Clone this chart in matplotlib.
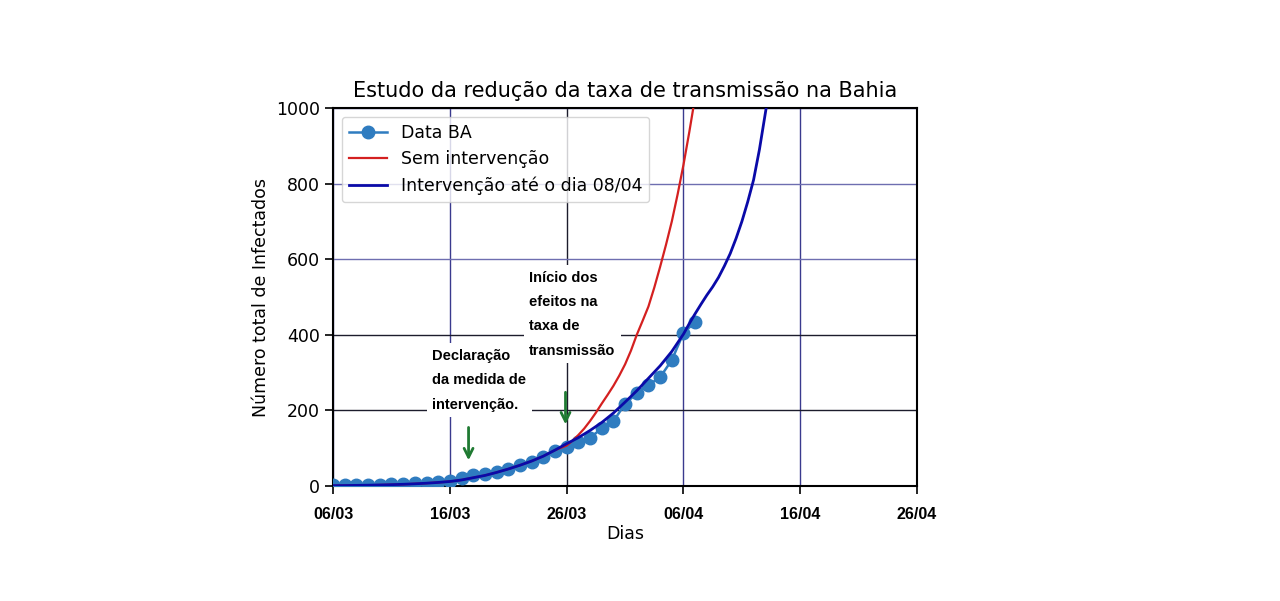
import matplotlib
matplotlib.use('Agg')
import matplotlib.pyplot as plt

# days counted from 06/03
data_days = list(range(32))
data_ba = [2, 2, 3, 3, 4, 5, 6, 7, 9, 10, 13, 21, 28, 32, 37, 45, 56, 63, 77, 93,
           103, 116, 127, 153, 172, 217, 246, 267, 288, 333, 405, 434]

sem_days = list(range(20)) + [20, 20.5, 21, 21.5, 22, 22.5, 23, 23.5, 24, 24.5, 25, 25.5,
                              26, 26.5, 27, 27.5, 28, 28.5, 29, 29.5, 30, 30.5, 31]
sem_intervencao = [1, 1.3, 1.7, 2.2, 2.8, 3.6, 4.6, 5.9, 7.5, 9.5, 12, 16, 22, 28, 36,
                   45, 55, 66, 79, 95,
                   107, 120, 135, 152, 172, 194, 218, 241, 265, 292, 322, 358,
                   400, 437, 475, 525, 580, 638, 700, 772, 850, 937, 1030]

com_days = list(range(30)) + [30, 30.5, 31, 31.5, 32, 32.5, 33, 33.5, 34, 34.5, 35, 35.5,
                              36, 36.5, 37, 37.5, 38]
com_intervencao = [1, 1.3, 1.7, 2.2, 2.8, 3.6, 4.6, 5.9, 7.5, 9.5, 12, 16, 22, 28, 36,
                   45, 55, 66, 79, 95, 112, 128, 147, 168, 193, 222, 252, 285, 318, 356,
                   402, 430, 456, 481, 505, 527, 552, 582, 615, 655, 700, 752,
                   810, 890, 985, 1080, 1180]

tick_days = [0, 10, 20, 30, 40, 50]
tick_labels = ['06/03', '16/03', '26/03', '06/04', '16/04', '26/04']

# annotation arrows (day, top value, tip value)
arrow_days = [11.6, 19.9]
arrow_top = [155, 248]
arrow_tip = [68, 163]

fig = plt.figure(figsize=(12.8, 6.01), dpi=100)
ax = fig.add_axes([0.2602, 0.1913, 0.4563, 0.629])

ax.plot(data_days, data_ba, '-o', color='#2f7cc0', lw=1.8, ms=9, label='Data BA', zorder=3)
ax.plot(sem_days, sem_intervencao, color='#d42020', lw=1.6, label='Sem intervenção', zorder=4)
ax.plot(com_days, com_intervencao, color='#0a0aa8', lw=2.0,
        label='Intervenção até o dia 08/04', zorder=5)

ax.set_xlim(0, 50)
ax.set_ylim(0, 1000)
ax.set_xticks(tick_days)
ax.set_xticklabels(tick_labels, fontfamily='Liberation Sans', fontweight='bold', fontsize=11.5)
ax.set_yticks(range(0, 1001, 200))
ax.tick_params(axis='y', labelsize=12.5, length=6, width=1.2)
ax.tick_params(axis='x', length=6, width=1.2, pad=9)

ax.grid(True, color='#3a3a8e', lw=1.0)
# some grid lines look darker in the picture
for i, gl in enumerate(ax.get_ygridlines()):
    if i in (1, 2):
        gl.set_color('#1c1c2c')
    elif i in (3, 4):
        gl.set_color('#6e6eb0')
for i, gl in enumerate(ax.get_xgridlines()):
    if i == 2:
        gl.set_color('#1c1c2c')
ax.set_axisbelow(True)

for s in ax.spines.values():
    s.set_linewidth(1.5)

ax.set_title('Estudo da redução da taxa de transmissão na Bahia', fontsize=15, pad=8)
ax.set_xlabel('Dias', fontsize=12.5, labelpad=2)
ax.set_ylabel('Número total de Infectados', fontsize=12.5)

ax.legend(loc='upper left', fontsize=12.5, borderaxespad=0.5, handlelength=2.2)

box = dict(facecolor='white', edgecolor='none', pad=4)
ax.text(8.5, 363, 'Declaração\nda medida de\nintervenção.', fontfamily='Liberation Sans',
        fontweight='bold', fontsize=10.5, linespacing=1.95, va='top', ha='left', bbox=box,
        zorder=2)
ax.text(16.8, 570, 'Início dos\nefeitos na\ntaxa de\ntransmissão', fontfamily='Liberation Sans',
        fontweight='bold', fontsize=10.5, linespacing=1.95, va='top', ha='left', bbox=box,
        zorder=2)

for d, top, tip in zip(arrow_days, arrow_top, arrow_tip):
    ax.annotate('', xy=(d, tip), xytext=(d, top),
                arrowprops=dict(arrowstyle='->', color='#1f7a32', lw=2,
                                mutation_scale=16, shrinkA=0, shrinkB=0),
                zorder=2)

plt.savefig('out.png', dpi=100)
